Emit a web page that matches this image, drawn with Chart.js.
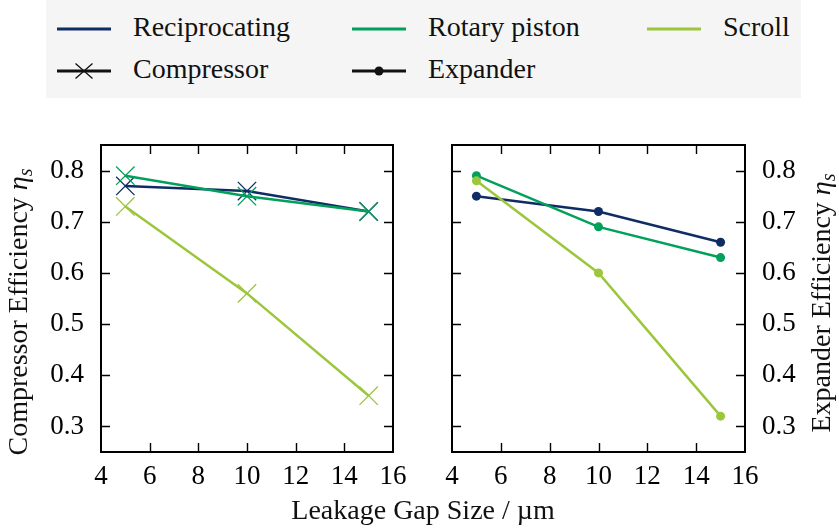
<!DOCTYPE html>
<html>
<head>
<meta charset="utf-8">
<script src="https://cdn.jsdelivr.net/npm/chart.js@4.4.1/dist/chart.umd.min.js"></script>
<style>
  html, body { margin: 0; padding: 0; background: #fff; }
  #page { position: relative; width: 839px; height: 530px; overflow: hidden; font-family: "Liberation Serif", serif; }
  #page canvas { position: absolute; left: 0; top: 0; width: 839px; height: 530px; }
  #legend { position: absolute; left: 46px; top: 0; width: 755px; height: 98px; background: #f5f5f5; }
  .lg-text { position: absolute; font-size: 28px; line-height: 28px; color: #111; white-space: nowrap; }
  .lg-line { position: absolute; }
</style>
</head>
<body>
<div id="page">
  <div id="legend"></div>
  <canvas id="comp" width="839" height="530"></canvas>
  <canvas id="exp" width="839" height="530"></canvas>
</div>
<script>
// leakage gap sizes in µm
const gapSizes = [5, 10, 15];

// isentropic efficiency, compressor mode
const compReciprocating = [0.77, 0.76, 0.72];
const compRotaryPiston  = [0.79, 0.75, 0.72];
const compScroll        = [0.73, 0.56, 0.36];

// isentropic efficiency, expander mode
const expReciprocating = [0.75, 0.72, 0.66];
const expRotaryPiston  = [0.79, 0.69, 0.63];
const expScroll        = [0.78, 0.60, 0.32];

const machineNames = ['Reciprocating', 'Rotary piston', 'Scroll'];
const machineColors = ['#102c64', '#02a05b', '#9cc63c'];
const modeNames = ['Compressor', 'Expander'];

const xTicks = [4, 6, 8, 10, 12, 14, 16];
const yTicks = [0.3, 0.4, 0.5, 0.6, 0.7, 0.8];

const FONT = '"Liberation Serif", serif';
Chart.defaults.font.family = FONT;
Chart.defaults.font.size = 27;
Chart.defaults.color = '#000';

// ---- legend (HTML) ----
const legend = document.getElementById('legend');
const lineX = [57, 352, 647], textX = [133, 428, 723], rowY = [29, 71];
function addLegendItem(col, row, label, color, marker) {
  const svgNS = 'http://www.w3.org/2000/svg';
  const svg = document.createElementNS(svgNS, 'svg');
  svg.setAttribute('width', 54); svg.setAttribute('height', 24);
  svg.setAttribute('class', 'lg-line');
  svg.style.left = (lineX[col] - 46) + 'px';
  svg.style.top = (rowY[row] - 12) + 'px';
  let s = `<line x1="0" y1="12" x2="54" y2="12" stroke="${color}" stroke-width="3"/>`;
  if (marker === 'cross') {
    s += `<path d="M18.5 4.5 L35.5 19.5 M18.5 19.5 L35.5 4.5" stroke="${color}" stroke-width="1.3" fill="none"/>`;
  } else if (marker === 'dot') {
    s += `<circle cx="27" cy="12" r="4.5" fill="${color}"/>`;
  }
  svg.innerHTML = s;
  legend.appendChild(svg);
  const t = document.createElement('div');
  t.className = 'lg-text';
  t.textContent = label;
  t.style.left = (textX[col] - 46) + 'px';
  t.style.top = (rowY[row] - 16) + 'px';
  legend.appendChild(t);
}
machineNames.forEach((n, i) => addLegendItem(i, 0, n, machineColors[i], null));
addLegendItem(0, 1, modeNames[0], '#111', 'cross');
addLegendItem(1, 1, modeNames[1], '#111', 'dot');

// ---- frame with inward ticks on all four sides, plus axis titles ----
function drawRich(ctx, parts, x, y, rotate) {
  ctx.save();
  ctx.translate(x, y);
  if (rotate) ctx.rotate(-Math.PI / 2);
  let total = 0;
  parts.forEach(p => { ctx.font = p.font; total += ctx.measureText(p.text).width; });
  let cx = -total / 2;
  ctx.textBaseline = 'alphabetic';
  ctx.textAlign = 'left';
  ctx.fillStyle = '#111';
  parts.forEach(p => {
    ctx.font = p.font;
    ctx.fillText(p.text, cx, p.dy || 0);
    cx += ctx.measureText(p.text).width;
  });
  ctx.restore();
}

const framePlugin = {
  id: 'frame',
  afterDraw(chart, args, opts) {
    const { ctx, chartArea: a } = chart;
    const xs = chart.scales.x, ys = chart.scales.y;
    const tick = 9;
    ctx.save();
    ctx.strokeStyle = '#000';
    ctx.lineWidth = 1.4;
    ctx.beginPath();
    xTicks.forEach(v => {
      const px = Math.round(xs.getPixelForValue(v)) + 0.5;
      if (px <= a.left + 1 || px >= a.right - 1) return;
      ctx.moveTo(px, a.bottom); ctx.lineTo(px, a.bottom - tick);
      ctx.moveTo(px, a.top); ctx.lineTo(px, a.top + tick);
    });
    yTicks.forEach(v => {
      const py = Math.round(ys.getPixelForValue(v)) + 0.5;
      ctx.moveTo(a.left, py); ctx.lineTo(a.left + tick, py);
      ctx.moveTo(a.right, py); ctx.lineTo(a.right - tick, py);
    });
    ctx.stroke();
    ctx.lineWidth = 2;
    ctx.strokeRect(a.left, a.top, a.right - a.left, a.bottom - a.top);
    ctx.restore();

    const f = `28px ${FONT}`, fi = `italic 28px ${FONT}`, fs = `italic 20px ${FONT}`;
    drawRich(ctx, [
      { text: opts.yTitle + ' ', font: f },
      { text: 'η', font: fi },
      { text: 's', font: fs, dy: 5 }
    ], opts.titleX, opts.titleY, true);
    if (opts.xTitle) {
      drawRich(ctx, [{ text: opts.xTitle, font: f }], 423, 519, false);
    }
  }
};

function makeDatasets(series, style) {
  return series.map((vals, i) => ({
    label: machineNames[i],
    data: gapSizes.map((g, k) => ({ x: g, y: vals[k] })),
    borderColor: machineColors[i],
    backgroundColor: machineColors[i],
    pointBorderColor: machineColors[i],
    pointBackgroundColor: machineColors[i],
    borderWidth: 2.5,
    pointStyle: style === 'cross' ? 'crossRot' : 'circle',
    pointRadius: style === 'cross' ? 13 : 4.5,
    pointBorderWidth: style === 'cross' ? 1.3 : 0,
    order: 2 - i,
    tension: 0
  }));
}

function makeChart(id, series, style, side, pad, pluginOpts) {
  return new Chart(document.getElementById(id), {
    type: 'line',
    data: { datasets: makeDatasets(series, style) },
    options: {
      responsive: false,
      animation: false,
      layout: { padding: pad },
      plugins: { legend: { display: false }, tooltip: { enabled: false }, frame: pluginOpts },
      scales: {
        x: {
          type: 'linear', min: 4, max: 16,
          grid: { display: false, drawTicks: false },
          border: { display: false },
          afterBuildTicks: s => { s.ticks = xTicks.map(v => ({ value: v })); },
          afterFit: s => { s.height = 78; },
          ticks: { padding: 9, maxRotation: 0, autoSkip: false }
        },
        y: {
          type: 'linear', min: 0.25, max: 0.85, position: side,
          grid: { display: false, drawTicks: false },
          border: { display: false },
          afterBuildTicks: s => { s.ticks = yTicks.map(v => ({ value: v })); },
          afterFit: s => { s.width = side === 'left' ? 101 : 94; },
          ticks: { padding: 17, callback: v => v.toFixed(1) }
        }
      }
    },
    plugins: [framePlugin]
  });
}

makeChart('comp', [compReciprocating, compRotaryPiston, compScroll], 'cross', 'left',
  { top: 145, left: 0, right: 446, bottom: 0 },
  { yTitle: 'Compressor Efficiency', titleX: 27, titleY: 312, xTitle: 'Leakage Gap Size / µm' });

makeChart('exp', [expReciprocating, expRotaryPiston, expScroll], 'dot', 'right',
  { top: 145, left: 452, right: 0, bottom: 0 },
  { yTitle: 'Expander Efficiency', titleX: 830, titleY: 303 });
</script>
</body>
</html>
